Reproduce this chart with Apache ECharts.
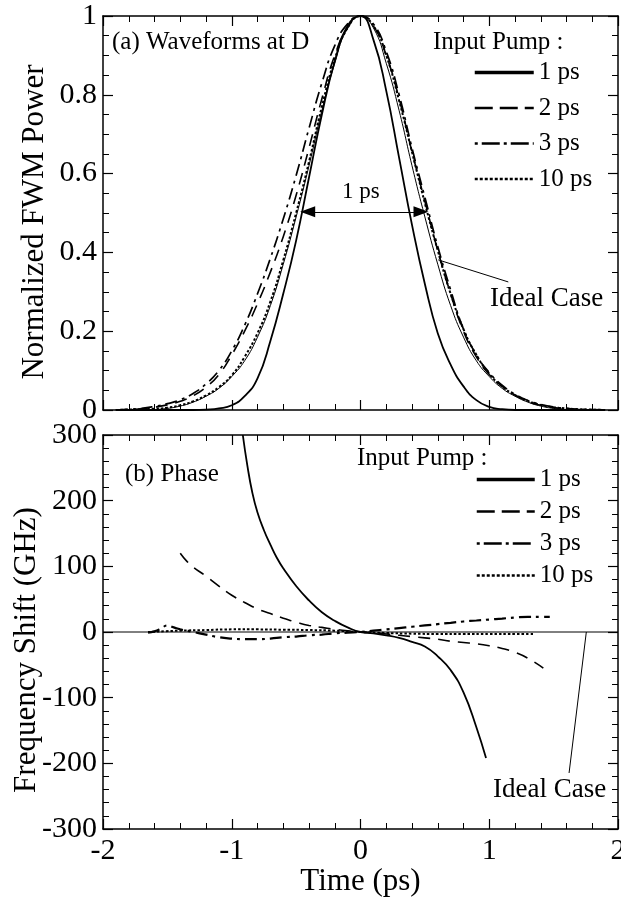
<!DOCTYPE html>
<html><head><meta charset="utf-8">
<script src="https://cdn.jsdelivr.net/npm/echarts/dist/echarts.min.js"></script>
<style>html,body{margin:0;padding:0;background:#fff}#c{width:621px;height:897px}</style>
</head><body><div id="c"></div>
<script>
// ---------- data ----------
const seriesNames = ['1 ps', '2 ps', '3 ps', '10 ps'];
const powerTicks = ['0', '0.2', '0.4', '0.6', '0.8', '1'];
const freqTicks = ['-300', '-200', '-100', '0', '100', '200', '300'];
const timeTicks = ['-2', '-1', '0', '1', '2'];

// (a) waveforms
const tPower = [-1.9,-1.8,-1.7,-1.6,-1.5,-1.4,-1.3,-1.2,-1.1,-1.0,-0.9,-0.8,-0.7,-0.6,-0.5,-0.4,-0.3,-0.2,-0.1,0,0.1,0.2,0.3,0.4,0.5,0.6,0.7,0.8,0.9,1.0,1.1,1.2,1.3,1.4,1.5,1.6,1.7,1.8,1.9];
const powerIdeal = [0,0,0,0.001,0.004,0.01,0.02,0.035,0.055,0.085,0.125,0.185,0.265,0.37,0.49,0.62,0.76,0.88,0.97,1.0,0.97,0.88,0.76,0.62,0.49,0.37,0.265,0.185,0.125,0.085,0.055,0.035,0.02,0.01,0.004,0.001,0,0,0];
const power1ps = [0,0,0,0,0,0,0,0.001,0.004,0.012,0.035,0.08,0.175,0.295,0.43,0.59,0.75,0.885,0.975,1.0,0.94,0.81,0.64,0.47,0.32,0.195,0.115,0.06,0.025,0.008,0.002,0,0,0,0,0,0,0,0];
const power2ps = [0,0.001,0.003,0.007,0.013,0.022,0.036,0.058,0.09,0.14,0.2,0.27,0.35,0.44,0.545,0.665,0.79,0.9,0.97,1.0,0.975,0.9,0.79,0.655,0.53,0.405,0.295,0.2,0.135,0.09,0.06,0.038,0.022,0.012,0.006,0.003,0.001,0,0];
const power3ps = [0,0.002,0.004,0.009,0.016,0.026,0.042,0.066,0.1,0.15,0.215,0.295,0.385,0.485,0.595,0.715,0.83,0.925,0.98,1.0,0.98,0.91,0.8,0.665,0.54,0.415,0.305,0.205,0.14,0.095,0.063,0.04,0.024,0.014,0.008,0.004,0.002,0.001,0];
const power10ps = [0,0.001,0.002,0.003,0.006,0.012,0.022,0.037,0.058,0.088,0.135,0.195,0.275,0.38,0.5,0.63,0.77,0.89,0.97,1.0,0.975,0.9,0.785,0.655,0.525,0.405,0.295,0.205,0.14,0.092,0.06,0.038,0.023,0.013,0.007,0.004,0.002,0.001,0];

// (b) phase / frequency shift (GHz)
const tFreqIdeal = [-2, 2];
const freqIdeal = [0, 0];
const tFreq1ps = [-0.914,-0.88,-0.84,-0.8,-0.75,-0.7,-0.65,-0.6,-0.5,-0.4,-0.3,-0.2,-0.1,0,0.1,0.2,0.3,0.4,0.5,0.6,0.7,0.8,0.9,0.975];
const freq1ps = [300,255,212,182,155,133,113,97,70,48,30,17,7,0,-2,-5,-9,-15,-22,-37,-58,-92,-145,-192];
const tFreq2ps = [-1.4,-1.35,-1.3,-1.2,-1.1,-1.0,-0.9,-0.8,-0.7,-0.6,-0.5,-0.4,-0.3,-0.2,-0.1,0,0.1,0.2,0.3,0.4,0.5,0.6,0.7,0.8,0.9,1.0,1.1,1.2,1.3,1.42];
const freq2ps = [120,108,99,85,70,56,45,35,28,21,15,10,7,4,2,0,-1,-3,-5,-7,-9,-11,-14,-16,-18,-21,-25,-31,-40,-55];
const tFreq3ps = [-1.65,-1.6,-1.55,-1.5,-1.45,-1.4,-1.3,-1.2,-1.1,-1.0,-0.9,-0.8,-0.7,-0.6,-0.5,-0.4,-0.3,-0.2,-0.1,0,0.1,0.2,0.3,0.4,0.5,0.6,0.7,0.8,0.9,1.0,1.1,1.2,1.3,1.4,1.47];
const freq3ps = [-1,1,5,10,7,4,0,-4,-8,-10,-11,-11,-10,-8,-7,-5,-4,-2,-1,0,2,4,6,8,10,12,14,16,17.5,19,20.5,22,23,23,23];
const tFreq10ps = [-1.65,-1.4,-1.2,-1.0,-0.8,-0.6,-0.4,-0.2,0,0.2,0.4,0.6,0.8,1.0,1.2,1.35];
const freq10ps = [0,2,3,4,4,3.5,3,2,0,-1.5,-2.5,-3,-3,-3,-3,-3];

// ---------- helpers ----------
const FONT = "'Liberation Serif','Times New Roman',serif";
const pairs = (xs, ys) => xs.map((x, i) => [x, ys[i]]);

const styles = {
  '1 ps': { type: 'solid', width: 1.8 },
  '2 ps': { type: [12, 8], width: 1.6 },
  '3 ps': { type: [12, 5, 3, 5], width: 1.7 },
  '10 ps': { type: [2.5, 2], width: 2 }
};
const hidden = { color: 'rgba(0,0,0,0)', borderWidth: 0, opacity: 0 };
const legendStyles = [
  { name: '1 ps', itemStyle: hidden, lineStyle: { width: 3.5, type: 'solid', color: '#000' } },
  { name: '2 ps', itemStyle: hidden, lineStyle: { width: 2.5, type: [18, 7], color: '#000' } },
  { name: '3 ps', itemStyle: hidden, lineStyle: { width: 2.5, type: [3, 4, 18, 4], color: '#000' } },
  { name: '10 ps', itemStyle: hidden, lineStyle: { width: 2.5, type: [3, 2], color: '#000' } }
];

function xAx(grid, pos, labels) {
  return {
    type: 'value', gridIndex: grid, position: pos, min: -2, max: 2, interval: 1,
    axisLine: { show: true, onZero: false, lineStyle: { color: '#000', width: 1.5 } },
    axisTick: { show: true, inside: true, length: 10, lineStyle: { color: '#000', width: 1.2 } },
    minorTick: { show: true, splitNumber: 5, length: 6, lineStyle: { color: '#000', width: 1 } },
    splitLine: { show: false }, minorSplitLine: { show: false },
    axisLabel: labels ? {
      show: true, margin: 7, color: '#000', fontFamily: FONT, fontSize: 30,
      formatter: v => timeTicks[Math.round(v + 2)]
    } : { show: false }
  };
}
function yAx(grid, pos, min, max, interval, minor, ticks, name, nameGap, pad) {
  const ax = {
    type: 'value', gridIndex: grid, position: pos, min: min, max: max, interval: interval,
    axisLine: { show: true, onZero: false, lineStyle: { color: '#000', width: 1.5 } },
    axisTick: { show: true, inside: true, length: 10, lineStyle: { color: '#000', width: 1.2 } },
    minorTick: { show: true, splitNumber: minor, length: 6, lineStyle: { color: '#000', width: 1 } },
    splitLine: { show: false }, minorSplitLine: { show: false },
    axisLabel: { show: false }
  };
  if (ticks) {
    ax.axisLabel = {
      show: true, margin: 6, color: '#000', fontFamily: FONT, fontSize: 30,
      showMinLabel: true, showMaxLabel: true,
      formatter: v => ticks[Math.round((v - min) / interval)]
    };
    ax.name = name; ax.nameLocation = 'middle'; ax.nameGap = nameGap;
    ax.nameMoveOverlap = false;
    ax.nameTextStyle = { color: '#000', fontFamily: FONT, fontSize: 31, padding: pad };
  }
  return ax;
}
function line(name, data, xi, yi, st, extra) {
  return Object.assign({
    type: 'line', name: name, data: data, xAxisIndex: xi, yAxisIndex: yi,
    symbol: 'none', smooth: 0.5, silent: true,
    lineStyle: { color: '#000', width: st.width, type: st.type },
    itemStyle: { color: '#000' }, z: 3
  }, extra || {});
}

const chart = echarts.init(document.getElementById('c'), null, { renderer: 'canvas' });
const txt = (t, x, y, size, align) => ({
  type: 'text', x: x, y: y, silent: true,
  style: { text: t, fill: '#000', fontFamily: FONT, fontSize: size, align: align || 'left', verticalAlign: 'middle' }
});

chart.setOption({
  animation: false,
  backgroundColor: '#fff',
  grid: [
    { left: 103, top: 16, width: 515, height: 394, outerBoundsMode: 'none', containLabel: false },
    { left: 103, top: 435, width: 515, height: 394, outerBoundsMode: 'none', containLabel: false }
  ],
  xAxis: [
    xAx(0, 'bottom', false), xAx(0, 'top', false),
    Object.assign(xAx(1, 'bottom', true), {
      name: 'Time (ps)', nameLocation: 'middle', nameGap: 37, nameMoveOverlap: false,
      nameTextStyle: { color: '#000', fontFamily: FONT, fontSize: 31 }
    }),
    xAx(1, 'top', false)
  ],
  yAxis: [
    yAx(0, 'left', 0, 1, 0.2, 4, powerTicks, 'Normalized FWM Power', 53, [0, 18, 0, 0]),
    yAx(0, 'right', 0, 1, 0.2, 4, null),
    yAx(1, 'left', -300, 300, 100, 5, freqTicks, 'Frequency Shift (GHz)', 61, [0, 36, 0, 0]),
    yAx(1, 'right', -300, 300, 100, 5, null)
  ],
  legend: [
    {
      data: legendStyles, orient: 'vertical', left: 473, top: 60, padding: 0,
      itemWidth: 59, itemHeight: 28, itemGap: 10.5, selectedMode: false,
      textStyle: { color: '#000', fontFamily: FONT, fontSize: 25 }
    },
    {
      data: legendStyles, orient: 'vertical', left: 475, top: 467, padding: 0,
      itemWidth: 58, itemHeight: 28, itemGap: 7, selectedMode: false,
      textStyle: { color: '#000', fontFamily: FONT, fontSize: 25 }
    }
  ],
  series: [
    line('Ideal Case', pairs(tPower, powerIdeal), 0, 0, { width: 1, type: 'solid' }, {
      z: 2,
      markLine: {
        silent: true, symbol: ['none', 'none'], label: { show: false },
        emphasis: { disabled: true },
        lineStyle: { color: '#000', width: 1, type: 'solid' },
        data: [
          [{ coord: [0.604, 0.381] }, { coord: [1.148, 0.325] }],
          [{ coord: [-0.41, 0.503], symbol: 'triangle', symbolSize: [11, 15] },
           { coord: [0.47, 0.503], symbol: 'triangle', symbolSize: [11, 15] }]
        ]
      }
    }),
    line('1 ps', pairs(tPower, power1ps), 0, 0, styles['1 ps']),
    line('2 ps', pairs(tPower, power2ps), 0, 0, styles['2 ps']),
    line('3 ps', pairs(tPower, power3ps), 0, 0, styles['3 ps']),
    line('10 ps', pairs(tPower, power10ps), 0, 0, styles['10 ps']),

    line('Ideal Case', pairs(tFreqIdeal, freqIdeal), 2, 2, { width: 1, type: 'solid' }, {
      z: 2, smooth: false,
      markLine: {
        silent: true, symbol: ['none', 'none'], label: { show: false },
        emphasis: { disabled: true },
        lineStyle: { color: '#000', width: 1, type: 'solid' },
        data: [[{ coord: [1.754, 0] }, { coord: [1.62, -214.7] }]]
      }
    }),
    line('1 ps', pairs(tFreq1ps, freq1ps), 2, 2, styles['1 ps']),
    line('2 ps', pairs(tFreq2ps, freq2ps), 2, 2, styles['2 ps']),
    line('3 ps', pairs(tFreq3ps, freq3ps), 2, 2, { width: 2.2, type: [12, 5, 3, 5] }),
    line('10 ps', pairs(tFreq10ps, freq10ps), 2, 2, styles['10 ps'])
  ],
  graphic: [
    txt('(a) Waveforms at D', 112, 42, 25),
    txt('Input Pump :', 433, 42, 25),
    txt('1 ps', 342, 192, 23),
    txt('Ideal Case', 490, 299, 27),
    txt('(b) Phase', 125, 474, 25),
    txt('Input Pump :', 357, 458, 25),
    txt('Ideal Case', 493, 790, 27)
  ]
});
</script>
</body></html>
